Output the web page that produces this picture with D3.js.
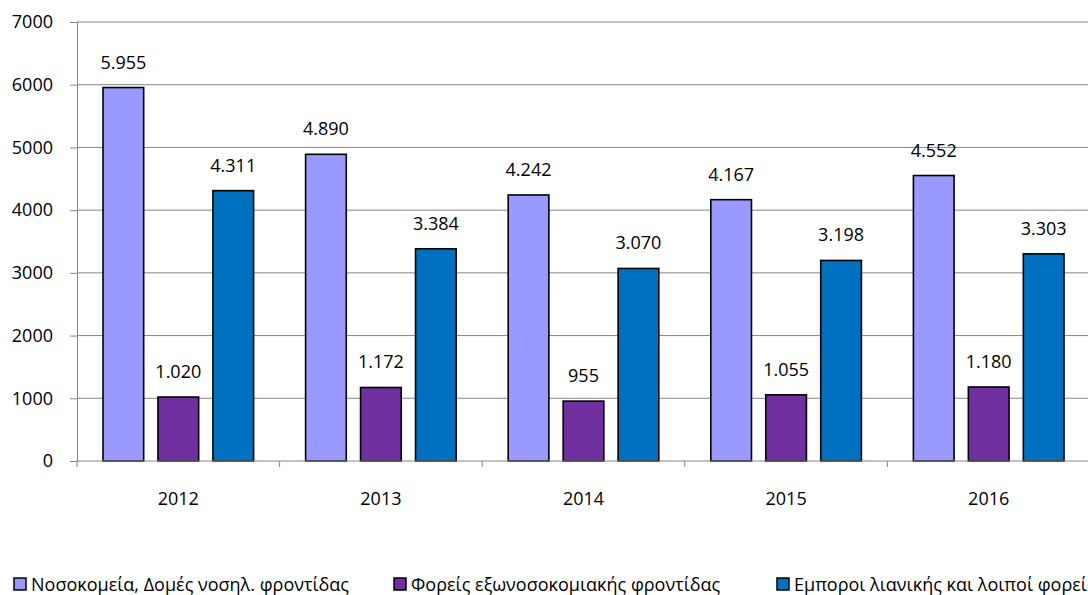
<!DOCTYPE html>
<html>
<head>
<meta charset="utf-8">
<script src="https://cdn.jsdelivr.net/npm/d3@7"></script>
<style>
  body { margin: 0; background: #fff; }
  svg { font-family: "Open Sans", "Noto Sans", sans-serif; }
</style>
</head>
<body>
<svg id="chart"></svg>
<script>
(function() {

  var years = ["2012", "2013", "2014", "2015", "2016"];
  var seriesNames = ["Νοσοκομεία, Δομές νοσηλ. φροντίδας", "Φορείς εξωνοσοκομιακής φροντίδας", "Εμποροι λιανικής και λοιποί φορείς"];
  var hospitals = [5955, 4890, 4242, 4167, 4552];
  var outpatient = [1020, 1172, 955, 1055, 1180];
  var retail = [4311, 3384, 3070, 3198, 3303];
  var yTicks = [0, 1000, 2000, 3000, 4000, 5000, 6000, 7000];

  var colors = ['#9999FF', '#7030A0', '#0070C0'];
  var series = [hospitals, outpatient, retail];

  var width = 1088, height = 595,
      left = 77, right = 1090, top = 22, bottom = 461,
      fontSize = 18;

  var svg = d3.select("#chart")
    .attr("width", width)
    .attr("height", height);

  var x = d3.scaleBand()
    .domain(years)
    .range([left, right]);

  var inner = d3.scaleBand()
    .domain(d3.range(series.length))
    .range([26, x.bandwidth() - 26])
    .paddingInner(0.26);

  var y = d3.scaleLinear()
    .domain([0, 7000])
    .range([bottom, top]);

  // gridlines
  svg.append("g")
    .selectAll("line")
    .data(yTicks.slice(1))
    .enter().append("line")
      .attr("x1", left)
      .attr("x2", width)
      .attr("y1", function(d) { return y(d); })
      .attr("y2", function(d) { return y(d); })
      .attr("stroke", "#868686")
      .attr("stroke-width", 1);

  // y axis
  var yAxis = svg.append("g")
    .attr("transform", "translate(" + left + ",0)")
    .call(d3.axisLeft(y).tickValues(yTicks).tickSize(7).tickPadding(17).tickFormat(d3.format("d")));
  yAxis.attr("font-family", null).attr("font-size", null);
  yAxis.select(".domain").attr("stroke", "#868686");
  yAxis.selectAll(".tick line").attr("stroke", "#868686");
  yAxis.selectAll("text").attr("font-size", fontSize).attr("fill", "#000");

  // bars
  series.forEach(function(values, si) {
    var g = svg.append("g");
    g.selectAll("rect")
      .data(values)
      .enter().append("rect")
        .attr("x", function(d, i) { return x(years[i]) + inner(si); })
        .attr("y", function(d) { return y(d); })
        .attr("width", inner.bandwidth())
        .attr("height", function(d) { return bottom - y(d); })
        .attr("fill", colors[si])
        .attr("stroke", "#000")
        .attr("stroke-width", 1.6);
    g.selectAll("text")
      .data(values)
      .enter().append("text")
        .attr("x", function(d, i) { return x(years[i]) + inner(si) + inner.bandwidth() / 2; })
        .attr("y", function(d) { return y(d) - 19; })
        .attr("text-anchor", "middle")
        .attr("font-size", fontSize)
        .text(function(d) { return d3.format(",")(d).replace(",", "."); });
  });

  // x axis
  var xAxis = svg.append("g")
    .attr("transform", "translate(0," + bottom + ")");
  xAxis.append("line")
    .attr("x1", left).attr("x2", width)
    .attr("stroke", "#868686");
  xAxis.selectAll(".tk")
    .data(years)
    .enter().append("line")
      .attr("class", "tk")
      .attr("x1", function(d) { return x(d); })
      .attr("x2", function(d) { return x(d); })
      .attr("y2", 6)
      .attr("stroke", "#868686");
  xAxis.selectAll("text")
    .data(years)
    .enter().append("text")
      .attr("x", function(d) { return x(d) + x.bandwidth() / 2; })
      .attr("y", 44)
      .attr("text-anchor", "middle")
      .attr("font-size", fontSize)
      .text(function(d) { return d; });

  // legend (last entry runs off the right edge, as in the original)
  var legendX = [14, 394, 777];
  var legend = svg.append("g");
  seriesNames.forEach(function(name, i) {
    legend.append("rect")
      .attr("x", legendX[i]).attr("y", 578)
      .attr("width", 12).attr("height", 12)
      .attr("fill", colors[i])
      .attr("stroke", "#000")
      .attr("stroke-width", 1.5);
    legend.append("text")
      .attr("x", legendX[i] + 17)
      .attr("y", 591)
      .attr("font-size", fontSize)
      .text(name);
  });

})();
</script>
</body>
</html>
